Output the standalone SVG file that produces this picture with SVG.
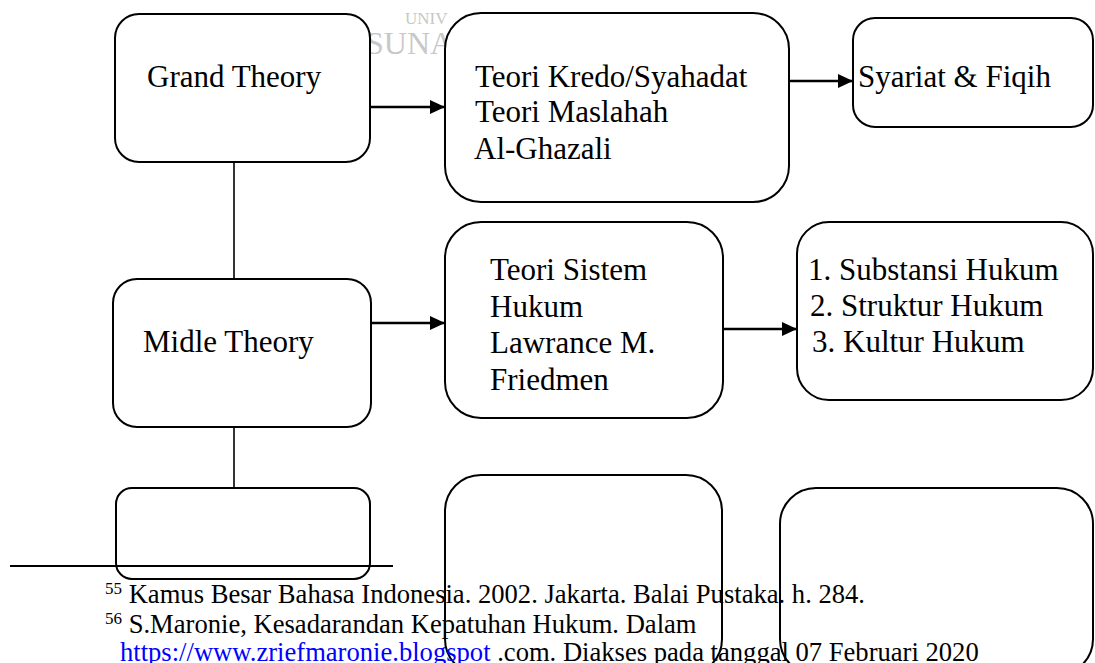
<svg xmlns="http://www.w3.org/2000/svg" width="1095" height="663" viewBox="0 0 1095 663">
<style>
.box{fill:#fff;stroke:#000;stroke-width:2}
.t{font-family:"Liberation Serif","Times New Roman",serif;font-size:31px;fill:#000}
.fn{font-family:"Liberation Serif","Times New Roman",serif;font-size:26.6px;fill:#000}
.sup{font-size:17px}
.wm{font-family:"Liberation Serif","Times New Roman",serif;fill:#c8c8c8}
.con{stroke:#000;stroke-width:2.5;fill:none}
.vcon{stroke:#000;stroke-width:1.6;fill:none}
</style>
<defs>
<marker id="ah" markerWidth="16" markerHeight="14" refX="15" refY="7" orient="auto" markerUnits="userSpaceOnUse">
<path d="M0,0 L15,7 L0,14 Z" fill="#000"/>
</marker>
</defs>
<rect width="1095" height="663" fill="#fff"/>
<g id="watermark">
<text class="wm" x="405" y="24" font-size="17">UNIV</text>
<text class="wm" x="366" y="54" font-size="32">SUNA</text>
</g>
<g id="connectors">
<line class="vcon" x1="234" y1="162" x2="234" y2="280"/>
<line class="vcon" x1="234" y1="427" x2="234" y2="488"/>
<line class="con" x1="370" y1="107" x2="445" y2="107" marker-end="url(#ah)"/>
<line class="con" x1="789" y1="81" x2="853" y2="81" marker-end="url(#ah)"/>
<line class="con" x1="371" y1="323" x2="445" y2="323" marker-end="url(#ah)"/>
<line class="con" x1="723" y1="329" x2="797" y2="329" marker-end="url(#ah)"/>
</g>
<g id="grand">
<rect class="box" x="115" y="14" width="255" height="148" rx="24"/>
<text class="t" x="147" y="87">Grand Theory</text>
</g>
<g id="kredo">
<rect class="box" x="445" y="13" width="344" height="189" rx="36"/>
<text class="t" x="475" y="87">Teori Kredo/Syahadat</text>
<text class="t" x="475" y="122">Teori Maslahah</text>
<text class="t" x="474" y="159">Al-Ghazali</text>
</g>
<g id="syariat">
<rect class="box" x="853" y="18" width="240" height="109" rx="22"/>
<text class="t" x="858" y="87">Syariat &amp; Fiqih</text>
</g>
<g id="midle">
<rect class="box" x="113" y="279" width="258" height="148" rx="24"/>
<text class="t" x="143" y="352">Midle Theory</text>
</g>
<g id="sistem">
<rect class="box" x="445" y="222" width="278" height="196" rx="36"/>
<text class="t" x="490" y="280">Teori Sistem</text>
<text class="t" x="490" y="317">Hukum</text>
<text class="t" x="490" y="353">Lawrance M.</text>
<text class="t" x="490" y="390">Friedmen</text>
</g>
<g id="substansi">
<rect class="box" x="797" y="222" width="296" height="178" rx="32"/>
<text class="t" x="808" y="280">1. Substansi Hukum</text>
<text class="t" x="810" y="316">2. Struktur Hukum</text>
<text class="t" x="812" y="352">3. Kultur Hukum</text>
</g>
<g id="bottom-left">
<rect class="box" x="116" y="488" width="254" height="91" rx="16"/>
</g>
<g id="bottom-middle">
<rect class="box" x="445" y="475" width="277" height="200" rx="36"/>
</g>
<g id="bottom-right">
<rect class="box" x="780" y="488" width="313" height="187" rx="36"/>
</g>
<g id="footnotes">
<line x1="10" y1="566" x2="393" y2="566" stroke="#000" stroke-width="2"/>
<text class="fn" x="105" y="603"><tspan class="sup" dy="-9">55</tspan><tspan dy="9"> Kamus Besar Bahasa Indonesia. 2002. Jakarta. Balai Pustaka. h. 284.</tspan></text>
<text class="fn" x="105" y="633"><tspan class="sup" dy="-9">56</tspan><tspan dy="9"> S.Maronie, Kesadarandan Kepatuhan Hukum. Dalam</tspan></text>
<text class="fn" x="120" y="661"><tspan fill="#0000ff">https://www.zriefmaronie.blogspot</tspan><tspan> .com. Diakses pada tanggal 07 Februari 2020</tspan></text>
</g>
</svg>
